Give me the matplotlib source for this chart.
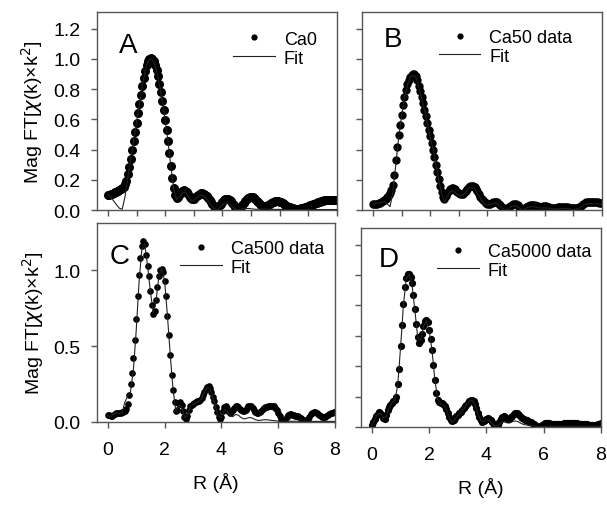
import numpy as np
import matplotlib
matplotlib.use("Agg")
import matplotlib.pyplot as plt
from matplotlib.lines import Line2D

plt.rcParams["font.family"] = ["Liberation Sans", "DejaVu Sans"]
plt.rcParams["mathtext.fontset"] = "dejavusans"

DATA_STEP = 0.05
FIT_STEP = 0.1

ca0_data = [
    0.100, 0.102, 0.105, 0.108, 0.112, 0.116, 0.120, 0.125, 0.130, 0.136,
    0.143, 0.155, 0.172, 0.195, 0.235, 0.285, 0.340, 0.395, 0.455, 0.515,
    0.578, 0.640, 0.700, 0.760, 0.820, 0.875, 0.922, 0.960, 0.985, 0.998,
    1.003, 0.998, 0.983, 0.958, 0.925, 0.885, 0.835, 0.780, 0.720, 0.660,
    0.598, 0.530, 0.455, 0.375, 0.290, 0.210, 0.145, 0.100, 0.080, 0.085,
    0.100, 0.115, 0.125, 0.130, 0.128, 0.118, 0.103, 0.088, 0.077, 0.072,
    0.075, 0.083, 0.093, 0.101, 0.107, 0.110, 0.110, 0.107, 0.100, 0.090,
    0.078, 0.064, 0.050, 0.037, 0.026, 0.019, 0.017, 0.021, 0.030, 0.042,
    0.054, 0.064, 0.071, 0.074, 0.073, 0.068, 0.058, 0.046, 0.034, 0.022,
    0.014, 0.010, 0.011, 0.018, 0.030, 0.044, 0.058, 0.070, 0.079, 0.084,
    0.086, 0.084, 0.079, 0.071, 0.062, 0.052, 0.042, 0.034, 0.028, 0.025,
    0.024, 0.026, 0.031, 0.037, 0.044, 0.050, 0.055, 0.058, 0.059, 0.058,
    0.056, 0.052, 0.047, 0.041, 0.035, 0.029, 0.023, 0.018, 0.014, 0.011,
    0.009, 0.008, 0.007, 0.007, 0.008, 0.010, 0.012, 0.015, 0.018, 0.022,
    0.026, 0.030, 0.034, 0.038, 0.042, 0.046, 0.049, 0.052, 0.055, 0.058,
    0.061, 0.063, 0.064, 0.065, 0.066, 0.066, 0.066, 0.065, 0.065, 0.064,
    0.064,
]
ca0_fit = [
    0.100, 0.085, 0.060, 0.035, 0.012, 0.005, 0.090, 0.220, 0.340, 0.455,
    0.578, 0.700, 0.820, 0.922, 0.985, 1.000, 0.980, 0.922, 0.832, 0.718,
    0.596, 0.452, 0.286, 0.138, 0.070, 0.085, 0.112, 0.118, 0.093, 0.065,
    0.060, 0.080, 0.095, 0.098, 0.085, 0.060, 0.032, 0.010, 0.003, 0.015,
    0.035, 0.045, 0.042, 0.028, 0.012, 0.003, 0.004, 0.008, 0.010, 0.010,
    0.008, 0.006, 0.005, 0.006, 0.007, 0.007, 0.006, 0.005, 0.004, 0.004,
    0.004, 0.004, 0.003, 0.003, 0.003, 0.003, 0.003, 0.003, 0.003, 0.003,
    0.003, 0.003, 0.003, 0.003, 0.003, 0.003, 0.003, 0.003, 0.003, 0.003,
    0.003,
]

ca50_data = [
    0.038, 0.040, 0.041, 0.043, 0.045, 0.048, 0.052, 0.058, 0.066, 0.076,
    0.087, 0.100, 0.115, 0.135, 0.165, 0.230, 0.330, 0.420, 0.495, 0.565,
    0.630, 0.695, 0.750, 0.795, 0.833, 0.862, 0.882, 0.895, 0.900, 0.898,
    0.888, 0.860, 0.822, 0.785, 0.745, 0.705, 0.663, 0.620, 0.575, 0.530,
    0.487, 0.445, 0.400, 0.350, 0.300, 0.250, 0.205, 0.160, 0.117, 0.085,
    0.075, 0.090, 0.110, 0.128, 0.140, 0.145, 0.144, 0.137, 0.127, 0.117,
    0.110, 0.106, 0.105, 0.108, 0.116, 0.127, 0.140, 0.151, 0.158, 0.161,
    0.160, 0.153, 0.140, 0.123, 0.105, 0.088, 0.074, 0.063, 0.054, 0.047,
    0.042, 0.040, 0.042, 0.047, 0.052, 0.055, 0.055, 0.050, 0.042, 0.032,
    0.022, 0.014, 0.009, 0.007, 0.010, 0.017, 0.026, 0.034, 0.039, 0.040,
    0.037, 0.030, 0.022, 0.014, 0.009, 0.008, 0.011, 0.017, 0.024, 0.029,
    0.032, 0.033, 0.032, 0.030, 0.027, 0.024, 0.022, 0.021, 0.022, 0.024,
    0.025, 0.024, 0.022, 0.019, 0.016, 0.014, 0.013, 0.014, 0.016, 0.018,
    0.019, 0.020, 0.020, 0.020, 0.020, 0.019, 0.017, 0.015, 0.013, 0.011,
    0.010, 0.010, 0.011, 0.014, 0.019, 0.026, 0.034, 0.042, 0.049, 0.054,
    0.056, 0.056, 0.055, 0.054, 0.053, 0.052, 0.051, 0.050, 0.049, 0.048,
    0.048,
]
ca50_fit = [
    0.038, 0.042, 0.046, 0.050, 0.055, 0.040, 0.022, 0.120, 0.300, 0.480,
    0.620, 0.740, 0.825, 0.875, 0.892, 0.880, 0.815, 0.740, 0.660, 0.573,
    0.485, 0.398, 0.298, 0.200, 0.105, 0.055, 0.090, 0.122, 0.128, 0.112,
    0.098, 0.097, 0.110, 0.132, 0.150, 0.152, 0.130, 0.095, 0.062, 0.042,
    0.032, 0.034, 0.043, 0.046, 0.035, 0.016, 0.004, 0.004, 0.018, 0.028,
    0.027, 0.015, 0.004, 0.006, 0.016, 0.022, 0.022, 0.018, 0.014, 0.013,
    0.014, 0.013, 0.010, 0.008, 0.008, 0.009, 0.010, 0.010, 0.009, 0.007,
    0.005, 0.006, 0.012, 0.024, 0.036, 0.042, 0.043, 0.041, 0.040, 0.039,
    0.038,
]

ca500_data = [
    0.046, 0.045, 0.042, 0.040, 0.045, 0.053, 0.058, 0.060, 0.060, 0.062,
    0.064, 0.066, 0.072, 0.088, 0.120, 0.180, 0.250, 0.320, 0.420, 0.540,
    0.680, 0.830, 0.970, 1.080, 1.160, 1.190, 1.170, 1.100, 1.030, 0.960,
    0.860, 0.770, 0.710, 0.730, 0.800, 0.890, 0.960, 1.000, 1.010, 0.990,
    0.930, 0.830, 0.700, 0.570, 0.440, 0.310, 0.210, 0.130, 0.070, 0.080,
    0.120, 0.130, 0.110, 0.070, 0.030, 0.020, 0.040, 0.080, 0.105, 0.115,
    0.120, 0.125, 0.130, 0.135, 0.138, 0.142, 0.155, 0.175, 0.200, 0.220,
    0.232, 0.235, 0.225, 0.200, 0.165, 0.135, 0.100, 0.065, 0.035, 0.020,
    0.035, 0.070, 0.100, 0.107, 0.095, 0.075, 0.060, 0.065, 0.080, 0.095,
    0.105, 0.108, 0.100, 0.088, 0.077, 0.070, 0.070, 0.080, 0.093, 0.103,
    0.108, 0.105, 0.095, 0.080, 0.068, 0.060, 0.060, 0.066, 0.075, 0.084,
    0.092, 0.098, 0.101, 0.103, 0.105, 0.107, 0.108, 0.105, 0.095, 0.080,
    0.060, 0.040, 0.020, 0.006, 0.002, 0.012, 0.030, 0.045, 0.052, 0.052,
    0.048, 0.044, 0.042, 0.041, 0.038, 0.032, 0.024, 0.016, 0.010, 0.007,
    0.010, 0.020, 0.035, 0.050, 0.062, 0.067, 0.066, 0.060, 0.052, 0.044,
    0.037, 0.032, 0.030, 0.032, 0.037, 0.044, 0.051, 0.057, 0.061, 0.064,
    0.065,
]
ca500_fit = [
    0.040, 0.035, 0.050, 0.060, 0.055, 0.060, 0.130, 0.170, 0.200, 0.340,
    0.600, 0.920, 1.140, 1.170, 1.030, 0.860, 0.720, 0.800, 0.960, 1.010,
    0.930, 0.700, 0.440, 0.210, 0.070, 0.110, 0.100, 0.030, 0.040, 0.100,
    0.115, 0.125, 0.135, 0.150, 0.195, 0.228, 0.220, 0.160, 0.095, 0.035,
    0.030, 0.080, 0.075, 0.040, 0.035, 0.050, 0.045, 0.028, 0.020, 0.025,
    0.030, 0.025, 0.015, 0.010, 0.012, 0.015, 0.015, 0.012, 0.010, 0.008,
    0.006, 0.005, 0.005, 0.005, 0.005, 0.005, 0.005, 0.005, 0.005, 0.005,
    0.005, 0.004, 0.004, 0.004, 0.004, 0.004, 0.004, 0.004, 0.004, 0.004,
    0.004,
]

ca5000_data = [
    0.010, 0.030, 0.052, 0.072, 0.088, 0.096, 0.092, 0.078, 0.060, 0.055,
    0.080, 0.110, 0.130, 0.148, 0.160, 0.168, 0.178, 0.200, 0.280, 0.380,
    0.530, 0.670, 0.810, 0.920, 0.980, 1.005, 1.010, 0.985, 0.945, 0.870,
    0.775, 0.680, 0.590, 0.550, 0.570, 0.615, 0.665, 0.695, 0.705, 0.690,
    0.640, 0.580, 0.510, 0.410, 0.310, 0.225, 0.180, 0.165, 0.160, 0.155,
    0.150, 0.140, 0.120, 0.095, 0.065, 0.045, 0.040, 0.048, 0.060, 0.072,
    0.082, 0.092, 0.100, 0.110, 0.122, 0.135, 0.148, 0.160, 0.171, 0.178,
    0.180, 0.172, 0.152, 0.122, 0.092, 0.065, 0.045, 0.036, 0.038, 0.047,
    0.055, 0.058, 0.055, 0.045, 0.030, 0.016, 0.007, 0.006, 0.015, 0.035,
    0.055, 0.068, 0.070, 0.065, 0.057, 0.052, 0.055, 0.064, 0.075, 0.085,
    0.090, 0.091, 0.087, 0.079, 0.069, 0.059, 0.051, 0.046, 0.043, 0.040,
    0.036, 0.031, 0.025, 0.018, 0.011, 0.005, 0.002, 0.002, 0.006, 0.013,
    0.020, 0.025, 0.028, 0.028, 0.026, 0.023, 0.020, 0.018, 0.017, 0.017,
    0.017, 0.018, 0.020, 0.022, 0.024, 0.026, 0.027, 0.028, 0.028, 0.028,
    0.028, 0.027, 0.026, 0.024, 0.022, 0.020, 0.019, 0.018, 0.017, 0.017,
    0.017, 0.016, 0.014, 0.012, 0.010, 0.010, 0.011, 0.014, 0.018, 0.023,
    0.028,
]
ca5000_fit = [
    0.010, 0.050, 0.085, 0.090, 0.060, 0.070, 0.125, 0.160, 0.175, 0.270,
    0.520, 0.800, 0.975, 1.005, 0.940, 0.770, 0.590, 0.570, 0.660, 0.700,
    0.635, 0.505, 0.310, 0.180, 0.155, 0.145, 0.115, 0.058, 0.028, 0.050,
    0.075, 0.095, 0.118, 0.145, 0.168, 0.176, 0.150, 0.090, 0.042, 0.035,
    0.048, 0.045, 0.022, 0.005, 0.008, 0.028, 0.035, 0.028, 0.026, 0.035,
    0.040, 0.036, 0.025, 0.016, 0.014, 0.013, 0.010, 0.006, 0.003, 0.003,
    0.004, 0.005, 0.006, 0.006, 0.006, 0.006, 0.006, 0.006, 0.006, 0.006,
    0.006, 0.006, 0.006, 0.006, 0.006, 0.006, 0.006, 0.006, 0.006, 0.006,
    0.006,
]

labels = ["Ca0", "Ca50 data", "Ca500 data", "Ca5000 data"]
letters = ["A", "B", "C", "D"]
series = [(ca0_data, ca0_fit), (ca50_data, ca50_fit),
          (ca500_data, ca500_fit), (ca5000_data, ca5000_fit)]

# layout (figure fractions) taken from the reference pixels
W, H = 607, 506
boxes = [(97, 13, 337, 211), (362, 13, 602, 211),
         (97, 224, 335, 423), (361, 229, 601, 428)]
letter_pos = [(0.129, 0.835), (0.129, 0.864), (0.097, 0.834), (0.117, 0.844)]
legend_pos = [(0.567, 0.905), (0.32, 0.915), (0.349, 0.915), (0.317, 0.925)]
dot_size = [6.5, 6.0, 4.8, 5.2]

INK = "#000000"
FRAME = "#555555"

fig = plt.figure(figsize=(W / 100, H / 100), dpi=100)

for i, ((data, fit), (x0, y0, x1, y1)) in enumerate(zip(series, boxes)):
    ax = fig.add_axes([x0 / W, 1 - y1 / H, (x1 - x0) / W, (y1 - y0) / H])
    r_data = np.arange(len(data)) * DATA_STEP
    r_fit = np.arange(len(fit)) * FIT_STEP
    ax.plot(r_data, data, "o", color=INK, ms=dot_size[i], mew=0, zorder=2)
    ax.plot(r_fit, fit, "-", color="#222222", lw=0.8, zorder=3)

    ax.set_xlim(-0.38, 8.0)
    ax.set_ylim(0, 1.31)
    for s in ax.spines.values():
        s.set_color(FRAME)
        s.set_linewidth(1.0)
    ax.tick_params(direction="out", length=4, width=1, color=FRAME,
                   labelsize=14)
    ax.tick_params(axis="x", pad=10)
    ax.tick_params(axis="y", pad=8)

    bottom = i >= 2
    left = i % 2 == 0
    if bottom:
        ax.set_xticks([0, 2, 4, 6, 8])
        ax.set_xlabel("R (Å)", fontsize=14)
        ax.xaxis.set_label_coords(0.5, -0.25)
    else:
        ax.set_xticks(range(0, 9))
        ax.tick_params(axis="x", labelbottom=False)
    if i == 2:
        ax.set_yticks([0, 0.5, 1.0])
        ax.set_yticklabels(["0.0", "0.5", "1.0"])
    else:
        ax.set_yticks(np.arange(7) * 0.2)
        ax.set_yticklabels([f"{v:.1f}" for v in np.arange(7) * 0.2])
    if left:
        ax.set_ylabel(r"Mag FT[$\chi$(k)×k$^2$]", fontsize=14)
        ax.yaxis.set_label_coords(-0.215, 0.5)
    else:
        ax.tick_params(axis="y", labelleft=False)

    ax.text(*letter_pos[i], letters[i], transform=ax.transAxes,
            fontsize=20, ha="center", va="center")

    handles = [
        Line2D([], [], ls="none", marker="o", ms=4.5, mew=0, color=INK),
        Line2D([], [], ls="-", lw=0.8, color="#222222"),
    ]
    ax.legend(handles, [labels[i], "Fit"], loc="upper left",
              bbox_to_anchor=legend_pos[i], frameon=False, fontsize=13,
              handlelength=2.3, handletextpad=0.5, labelspacing=0.1,
              borderpad=0, borderaxespad=0, numpoints=1)

fig.savefig("out.png", dpi=100)
